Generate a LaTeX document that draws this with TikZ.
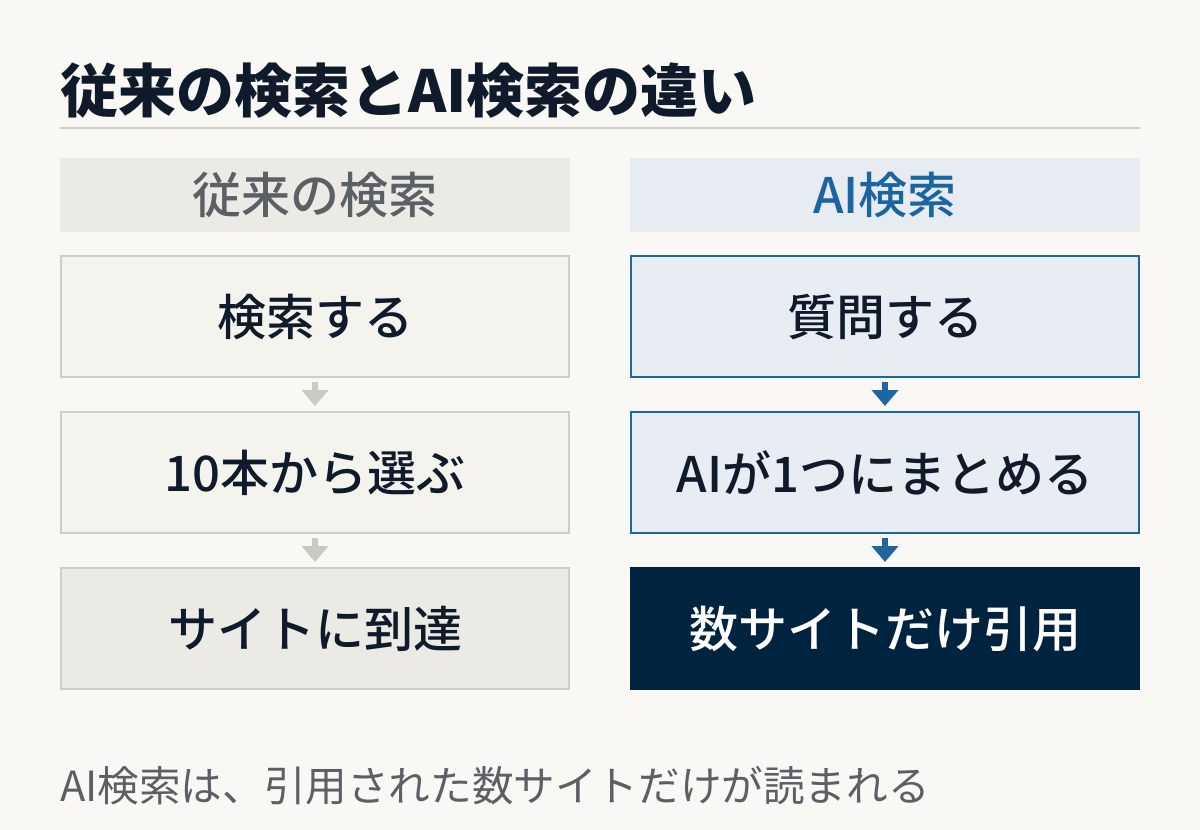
\documentclass[tikz,border=0pt]{standalone}
\usepackage{fontspec}
\setmainfont{Noto Sans CJK JP}
\IfFontExistsTF{Noto Sans CJK JP Medium}{\newfontfamily\jpmed{Noto Sans CJK JP Medium}}{\newcommand\jpmed{\bfseries}}
\usetikzlibrary{arrows.meta}
\definecolor{bgc}{HTML}{F9F8F5}
\definecolor{titlec}{HTML}{0F1A2A}
\definecolor{rulec}{HTML}{D3D1C5}
\definecolor{lhead}{HTML}{ECEAE4}
\definecolor{lheadtxt}{HTML}{5B5F66}
\definecolor{lfill}{HTML}{F4F3EE}
\definecolor{lborder}{HTML}{CFCEC3}
\definecolor{rhead}{HTML}{E6ECF2}
\definecolor{rheadtxt}{HTML}{1A64A0}
\definecolor{rfill}{HTML}{E7EDF3}
\definecolor{rborder}{HTML}{1D66A0}
\definecolor{navy}{HTML}{00233F}
\definecolor{larrow}{HTML}{CBCAC0}
\definecolor{foottxt}{HTML}{5B5F66}
\tikzset{
  headbox/.style={rectangle, minimum width=510pt, minimum height=74pt, inner sep=0pt, font=\fontsize{49}{53}\selectfont\jpmed},
  lstepbox/.style={rectangle, draw=lborder, line width=2pt, fill=lfill, minimum width=508pt, minimum height=121pt, inner sep=0pt, text=titlec, font=\fontsize{49}{53}\selectfont\jpmed},
  rstepbox/.style={rectangle, draw=rborder, line width=2pt, fill=rfill, minimum width=508pt, minimum height=121pt, inner sep=0pt, text=titlec, font=\fontsize{49}{53}\selectfont\jpmed},
  flowarrow/.style={line width=6pt, -{Triangle[width=26pt,length=16pt]}, shorten <=4pt, shorten >=5pt}
}
\begin{document}
\begin{tikzpicture}[x=1pt,y=-1pt]
\fill[bgc] (0,0) rectangle (1200,830);
\useasboundingbox (0,0) rectangle (1200,830);
\node[anchor=base west, inner sep=0pt, text=titlec, font=\fontsize{58}{62}\selectfont\bfseries] (title) at (60,112) {従来の検索とAI検索の違い};
\coordinate (ruleL) at (60,128);
\coordinate (ruleR) at (1140,128);
\draw[rulec, line width=2pt] (ruleL) -- (ruleR);
% headers
\node[headbox, fill=lhead, text=lheadtxt] (lh) at (315,195) {従来の検索};
\node[headbox, fill=rhead, text=rheadtxt] (rh) at (885,195) {AI検索};
% left column
\node[lstepbox] (l1) at (315,316.5) {検索する};
\node[lstepbox] (l2) at (315,472.5) {10本から選ぶ};
\node[lstepbox, fill=lhead] (l3) at (315,628.5) {サイトに到達};
% right column
\node[rstepbox] (r1) at (885,316.5) {質問する};
\node[rstepbox] (r2) at (885,472.5) {AIが1つにまとめる};
\node[rstepbox, draw=navy, fill=navy, text=white] (r3) at (885,628.5) {数サイトだけ引用};
% arrows
\draw[flowarrow, larrow] (l1) -- (l2);
\draw[flowarrow, larrow] (l2) -- (l3);
\draw[flowarrow, rborder] (r1) -- (r2);
\draw[flowarrow, rborder] (r2) -- (r3);
% footer
\node[anchor=base west, inner sep=0pt, text=foottxt, font=\fontsize{41.6}{45}\selectfont] (foot) at (60,801) {AI検索は、引用された数サイトだけが読まれる};
\end{tikzpicture}
\end{document}
